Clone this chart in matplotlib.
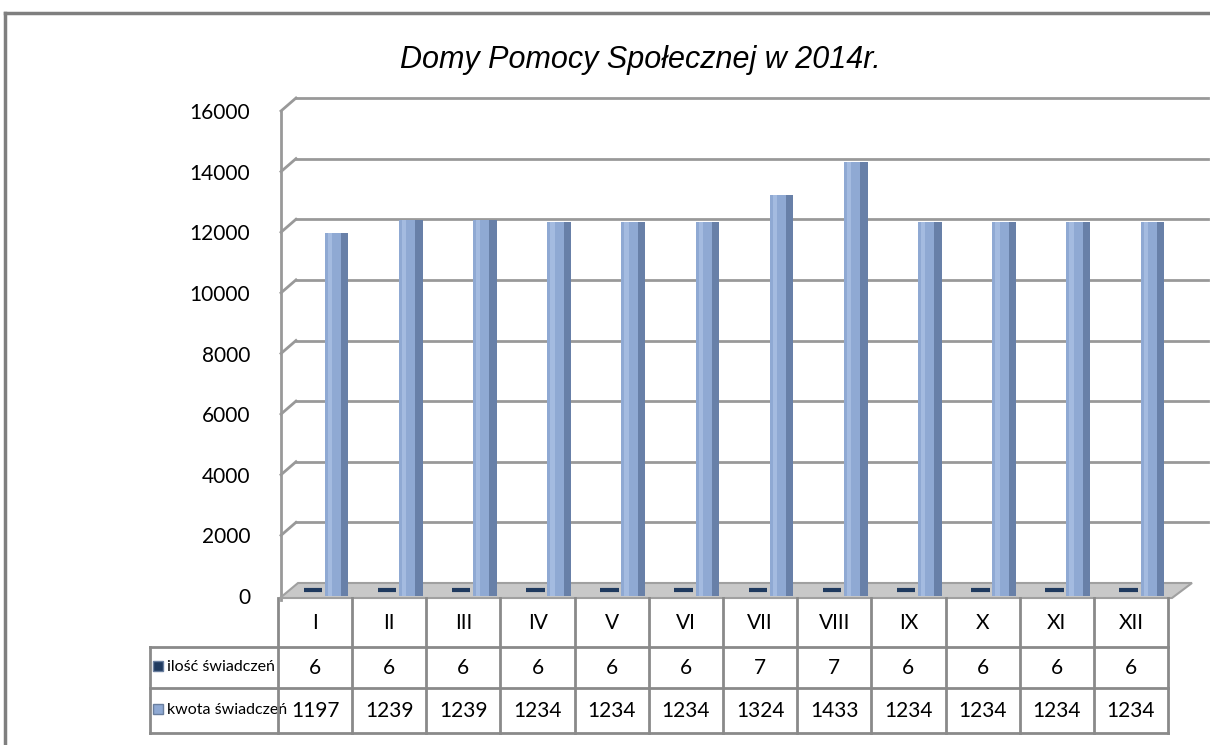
import matplotlib.pyplot as plt
from matplotlib.transforms import ScaledTranslation, blended_transform_factory
from matplotlib.patches import Polygon

months = ['I', 'II', 'III', 'IV', 'V', 'VI', 'VII', 'VIII', 'IX', 'X', 'XI', 'XII']
ilosc = [6, 6, 6, 6, 6, 6, 7, 7, 6, 6, 6, 6]
kwota = [11970, 12390, 12390, 12340, 12340, 12340, 13240, 14330, 12340, 12340, 12340, 12340]
# the source table cuts the last digit of each amount
kwota_shown = [str(v)[:4] for v in kwota]
y_ticks = [0, 2000, 4000, 6000, 8000, 10000, 12000, 14000, 16000]

W, H = 1210, 745
fig = plt.figure(figsize=(W / 100, H / 100), dpi=100)

# overlay in pixel coords for frame / table
ov = fig.add_axes([0, 0, 1, 1])
ov.set_xlim(0, W)
ov.set_ylim(H, 0)
ov.axis('off')

ax = fig.add_axes([278 / W, 1 - 596 / H, 890 / W, 485 / H])
ax.set_xlim(-0.5, 11.5)
ax.set_ylim(0, 16000)
for s in ax.spines.values():
    s.set_visible(False)
ax.set_xticks([])
ax.set_yticks(y_ticks)
ax.set_yticklabels([str(t) for t in y_ticks], fontsize=15, family='Lato')
ax.tick_params(axis='y', length=0, pad=20)
ax.patch.set_alpha(0)

grid_col = '#999999'
back = ax.transData + ScaledTranslation(18 / 100, 13 / 100, fig.dpi_scale_trans)
for t in y_ticks[1:]:
    ax.plot([-0.5, 11.8], [t, t], transform=back, color=grid_col, lw=2, clip_on=False, zorder=0)
# left wall
ov.plot([281, 281], [111, 600], color=grid_col, lw=2, zorder=0)
for t in y_ticks[1:]:
    yp = H - ax.transData.transform((0, t))[1]
    ov.plot([281, 296], [yp, yp - 13], color=grid_col, lw=2, zorder=0)

# floor
floor = Polygon([[280, 598], [298, 583], [1192, 583], [1172, 598]], closed=True,
                facecolor='#c8c8c8', edgecolor='#a0a0a0', lw=1.5, zorder=1)
ov.add_patch(floor)

x = list(range(len(months)))
# ilość – tiny bars lying on the floor
front = ax.transData + ScaledTranslation(0, 6 / 100, fig.dpi_scale_trans)
ax.bar([i - 0.03 for i in x], ilosc, width=0.25, color='#1f3a5f', edgecolor='#1f3a5f',
       lw=3, transform=front, zorder=3, clip_on=False)

# kwota – shaded columns
ax.bar([i + 0.29 for i in x], kwota, width=0.32, color='#8fa9d3', zorder=4, clip_on=False)
ax.bar([i + 0.40 for i in x], kwota, width=0.10, color='#6880a8', zorder=5, clip_on=False)
ax.bar([i + 0.20 for i in x], kwota, width=0.06, color='#a4bbe0', zorder=5, clip_on=False)

ax.set_zorder(2)
ov.set_zorder(1)

# table
tb = blended_transform_factory(ax.transData, ov.transData)
line_col = '#8a8a8a'
for i in range(len(months) + 1):
    ax.plot([i - 0.5, i - 0.5], [598, 733], transform=tb, color=line_col, lw=2, clip_on=False)
for yy in [647, 688, 733]:
    ov.plot([150, 1168], [yy, yy], color=line_col, lw=2)
ov.plot([150, 150], [647, 733], color=line_col, lw=2)

for i, m in enumerate(months):
    ax.text(i, 623, m, transform=tb, ha='center', va='center', fontsize=15, family='Lato')
    ax.text(i, 668, str(ilosc[i]), transform=tb, ha='center', va='center', fontsize=15, family='Lato')
    ax.text(i, 711, kwota_shown[i], transform=tb, ha='center', va='center', fontsize=15, family='Lato')

ov.add_patch(plt.Rectangle((153, 661), 10, 10, facecolor='#1f3a5f', edgecolor='#6a7f9f', lw=1))
ov.add_patch(plt.Rectangle((153, 704), 10, 10, facecolor='#8fa9d3', edgecolor='#6a7f9f', lw=1))
ov.text(167, 667, 'ilość świadczeń', ha='left', va='center', fontsize=11.5, family='Lato')
ov.text(167, 710, 'kwota świadczeń', ha='left', va='center', fontsize=11.5, family='Lato')

# outer frame and title
ov.plot([5, W], [13, 13], color='#7f7f7f', lw=2.5)
ov.plot([5, 5], [13, H], color='#7f7f7f', lw=2.5)
ov.text(640, 60, 'Domy Pomocy Społecznej w 2014r.', ha='center', va='center',
        fontsize=22, style='italic', family='Liberation Sans')

fig.savefig('out.png', dpi=100)
